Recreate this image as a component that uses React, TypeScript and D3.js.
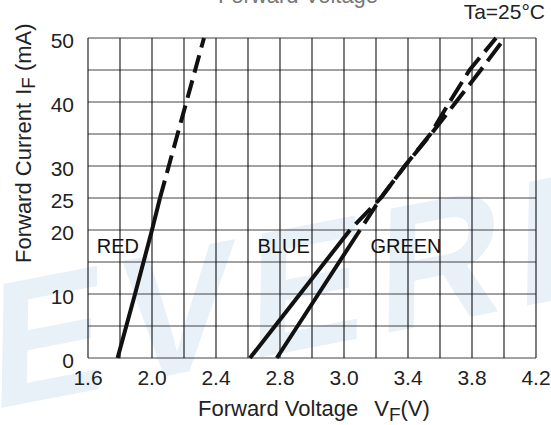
import React from "react";
import * as d3 from "d3";

// ---- data ----
const xTickValues = [1.6, 2.0, 2.4, 2.8, 3.2, 3.6, 4.0, 4.4];
const xTickLabels = ["1.6", "2.0", "2.4", "2.8", "3.0", "3.4", "3.8", "4.2"];
const yTickValues = [0, 10, 20, 25, 30, 40, 50];
const yTickLabels = ["0", "10", "20", "25", "30", "40", "50"];

const redSolidI = [0, 10, 20, 25];
const redSolidV = [1.785, 1.894, 2.0, 2.05];
const redDashI = [25, 30, 35, 40, 45, 50];
const redDashV = [2.05, 2.105, 2.16, 2.215, 2.27, 2.325];

const blueSolidI = [0, 10, 20];
const blueSolidV = [2.6125, 2.925, 3.2375];
const blueDashI = [20, 25, 30, 35, 40, 45, 50];
const blueDashV = [3.2375, 3.43, 3.58, 3.745, 3.9, 4.055, 4.205];

const greenSolidI = [0, 10, 20];
const greenSolidV = [2.78, 3.04, 3.3];
const greenDashI = [20, 25, 30, 35, 40, 45, 50];
const greenDashV = [3.3, 3.43, 3.58, 3.74, 3.86, 3.985, 4.15];

const seriesLabels = [
  { text: "RED", v: 1.655 },
  { text: "BLUE", v: 2.66 },
  { text: "GREEN", v: 3.365 },
];
const seriesLabelI = 16.4;

const W = 551;
const H = 425;
const left = 88, right = 536, top = 38, bottom = 358;
const FONT = "'Liberation Sans', Arial, Helvetica, sans-serif";

export default function App() {
  const x = d3.scaleLinear().domain([1.6, 4.4]).range([left, right]);
  const y = d3.scaleLinear().domain([0, 50]).range([bottom, top]);

  const gridX = d3.range(0, 15).map((i) => 1.6 + i * 0.2);
  const gridY = y.ticks(10);

  const line = d3
    .line<[number, number]>()
    .x((d) => x(d[0]))
    .y((d) => y(d[1]));

  const mk = (V: number[], I: number[]) =>
    line(V.map((v, i) => [v, I[i]] as [number, number])) || "";

  return (
    <svg
      width={W}
      height={H}
      style={{ position: "absolute", left: 0, top: 0, background: "#fff" }}
      fontFamily={FONT}
    >
      <rect x={0} y={0} width={W} height={H} fill="#fff" />
      {/* watermark */}
      <g clipPath="url(#wmclip)">
        <clipPath id="wmclip">
          <rect x={0} y={0} width={W} height={H} />
        </clipPath>
        <text
          x={0}
          y={0}
          transform="translate(-10,410) rotate(-11) skewX(-12)"
          fontSize={176}
          fontWeight="bold"
          fill="#e8f0f8"
          letterSpacing={14}
        >
          EVERL
        </text>
      </g>

      {/* grid */}
      {gridY.map((v) => (
        <line key={"gy" + v} x1={left} x2={right} y1={y(v)} y2={y(v)} stroke="#444" strokeWidth={1.1} />
      ))}
      {gridX.map((v, i) => (
        <line key={"gx" + i} x1={x(v)} x2={x(v)} y1={top} y2={bottom} stroke="#111" strokeWidth={1.1} />
      ))}

      {/* series labels */}
      {seriesLabels.map((s) => (
        <text key={s.text} x={x(s.v)} y={y(seriesLabelI)} fontSize={20} fill="#111">
          {s.text}
        </text>
      ))}

      {/* curves */}
      <g fill="none" stroke="#111" strokeWidth={4} strokeLinecap="butt">
        <path d={mk(redSolidV, redSolidI)} />
        <path d={mk(redDashV, redDashI)} strokeDasharray="18 8" />
        <path d={mk(blueSolidV, blueSolidI)} />
        <path d={mk(greenSolidV, greenSolidI)} />
        <path d={mk(blueDashV, blueDashI)} strokeDasharray="22 8" strokeDashoffset={22} />
        <path d={mk(greenDashV, greenDashI)} strokeDasharray="22 8" strokeDashoffset={22} />
      </g>

      {/* tick labels */}
      {xTickValues.map((v, i) => (
        <text key={"xt" + i} x={x(v)} y={385} fontSize={21} textAnchor="middle" fill="#222">
          {xTickLabels[i]}
        </text>
      ))}
      {yTickValues.map((v, i) => (
        <text key={"yt" + i} x={74} y={y(v) + 10} fontSize={21} textAnchor="end" fill="#222">
          {yTickLabels[i]}
        </text>
      ))}

      {/* axis titles */}
      <text x={198} y={416} fontSize={22} fill="#222">
        Forward Voltage
        <tspan dx={16}>V</tspan>
        <tspan fontSize={19} dy={5}>F</tspan>
        <tspan dy={-5}>(V)</tspan>
      </text>
      <text transform="translate(31,263) rotate(-90)" fontSize={22} fill="#222">
        Forward Current
        <tspan dx={8}>I</tspan>
        <tspan fontSize={19} dy={4}>F</tspan>
        <tspan dy={-4} dx={6}>(mA)</tspan>
      </text>

      <text x={545} y={19} fontSize={21} textAnchor="end" fill="#222">
        Ta=25°C
      </text>
      <text x={298} y={3} fontSize={22} textAnchor="middle" fill="#777">
        Forward Voltage
      </text>
    </svg>
  );
}
